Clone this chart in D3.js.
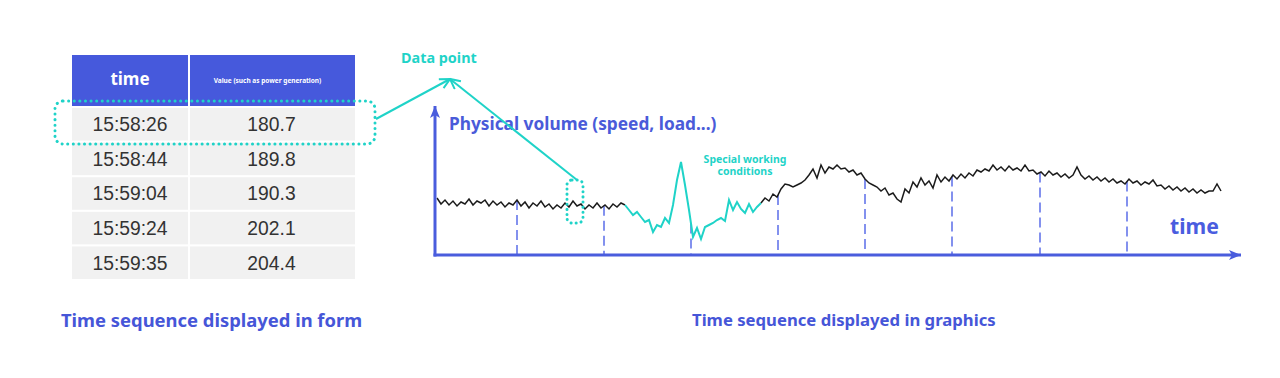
<!DOCTYPE html>
<html lang="en">
<head>
  <meta charset="UTF-8">
  <title>Time sequence: form vs graphics</title>
  <style>
    * { box-sizing: border-box; margin: 0; }
    body { width: 1280px; height: 378px; background: #fff; overflow: hidden; }
    svg { display: block; }
    .bold { font-family: "Noto Sans", sans-serif; font-weight: bold; }
    .cell { font-family: "Liberation Sans", Arial, sans-serif; font-size: 19.3px; fill: #333; }
  </style>
</head>
<body>
  <svg></svg>
  <script src="https://d3js.org/d3.v7.min.js"></script>
  <script>
    // table contents
    const headers = ['time', 'Value (such as power generation)'];
    const times = ['15:58:26', '15:58:44', '15:59:04', '15:59:24', '15:59:35'];
    const values = [180.7, 189.8, 190.3, 202.1, 204.4];

    // physical volume, one reading per sample
    const series = [
      57,51,55,50,54,49,53,51,56,50,54,52,55,49,54,50,53,48,52,50,55,49,53,47,
      52,49,54,48,51,46,50,47,52,48,54,49,51,46,50,47,52,47,50,46,51,48,52,50,
      45,40,43,38,33,35,23,30,28,37,32,50,75,93,70,45,18,27,16,28,30,32,35,37,
      34,55,45,53,46,42,51,43,48,52,
      57,54,61,58,66,71,70,68,70,72,75,80,86,77,90,82,88,86,90,86,87,83,85,80,
      82,76,72,70,68,64,67,60,62,56,53,66,62,73,68,77,70,74,67,80,73,78,74,80,
      76,81,77,82,79,85,83,86,84,90,85,88,84,89,85,87,84,90,84,85,81,83,79,84,
      80,82,78,81,77,80,88,80,76,79,75,78,74,77,73,76,72,74,71,76,72,74,70,73,
      71,75,69,70,66,69,65,68,64,67,63,66,62,65,62,64,64,71,64
    ];
    // sample range of the special working conditions
    const specialRange = [47, 81];
    // sample positions of the dashed time marks
    const marks = [20, 41.75, 63.5, 85.25, 107, 128.75, 150.75, 172.5];

    const blue = '#4a5ddd';
    const cyan = '#1fd3c8';
    const width = 1280, height = 378;

    const svg = d3.select('svg')
      .attr('width', width)
      .attr('height', height);

    const defs = svg.append('defs');
    defs.append('marker')
      .attr('id', 'axis-head')
      .attr('viewBox', '0 0 12 10')
      .attr('refX', 12).attr('refY', 5)
      .attr('markerWidth', 12).attr('markerHeight', 10)
      .attr('markerUnits', 'userSpaceOnUse')
      .attr('orient', 'auto')
      .append('path')
      .attr('d', 'M0,0 L12,5 L0,10 L3,5 Z')
      .attr('fill', blue);
    defs.append('marker')
      .attr('id', 'open-head')
      .attr('viewBox', '0 0 12 12')
      .attr('refX', 11).attr('refY', 6)
      .attr('markerWidth', 12).attr('markerHeight', 12)
      .attr('markerUnits', 'userSpaceOnUse')
      .attr('orient', 'auto')
      .append('path')
      .attr('d', 'M1,1 L11,6 L1,11')
      .attr('fill', 'none')
      .attr('stroke', cyan)
      .attr('stroke-width', 2);

    // ---------- table ----------
    const tx = d3.scaleOrdinal().domain([0, 1]).range([72, 190]);
    const colW = [116, 165];
    const rowY = d3.scaleBand().domain(d3.range(times.length)).range([108, 279]).paddingInner(0.06);

    const table = svg.append('g');
    table.selectAll('rect.head')
      .data(headers)
      .enter().append('rect')
      .attr('class', 'head')
      .attr('x', (d, i) => tx(i))
      .attr('y', 55)
      .attr('width', (d, i) => colW[i])
      .attr('height', 51)
      .attr('fill', '#4659dc');
    table.append('text')
      .attr('class', 'bold')
      .attr('x', tx(0) + colW[0] / 2).attr('y', 85)
      .attr('text-anchor', 'middle')
      .attr('font-size', 17)
      .attr('fill', '#fff')
      .text(headers[0]);
    table.append('text')
      .attr('class', 'bold')
      .attr('x', tx(1) + colW[1] / 2 - 5).attr('y', 83)
      .attr('text-anchor', 'middle')
      .attr('font-size', 6.5)
      .attr('font-weight', 'normal')
      .attr('fill', '#fff')
      .text(headers[1]);

    const rows = table.selectAll('g.row')
      .data(times.map((t, i) => ({ t: t, v: values[i], i: i })))
      .enter().append('g')
      .attr('class', 'row')
      .attr('transform', d => 'translate(0,' + rowY(d.i) + ')');
    [0, 1].forEach(c => {
      rows.append('rect')
        .attr('x', tx(c))
        .attr('width', colW[c])
        .attr('height', rowY.bandwidth())
        .attr('fill', '#f1f1f1');
    });
    rows.append('text')
      .attr('class', 'cell')
      .attr('x', tx(0) + colW[0] / 2)
      .attr('y', rowY.bandwidth() / 2 + 7)
      .attr('text-anchor', 'middle')
      .text(d => d.t);
    rows.append('text')
      .attr('class', 'cell')
      .attr('x', tx(1) + colW[1] / 2 - 1)
      .attr('y', rowY.bandwidth() / 2 + 7)
      .attr('text-anchor', 'middle')
      .text(d => d.v.toFixed(1));

    // dotted box around the first row
    svg.append('rect')
      .attr('x', 55).attr('y', 101)
      .attr('width', 320).attr('height', 43)
      .attr('rx', 8)
      .attr('fill', 'none')
      .attr('stroke', cyan)
      .attr('stroke-width', 3)
      .attr('stroke-dasharray', '0.1,5.5')
      .attr('stroke-linecap', 'round');

    // ---------- chart ----------
    const x = d3.scaleLinear().domain([0, series.length - 1]).range([437, 1221]);
    const y = d3.scaleLinear().domain([0, 150]).range([255, 105]);
    const valueAt = t => {
      const i = Math.floor(t), f = t - i;
      return series[i] + (series[Math.min(i + 1, series.length - 1)] - series[i]) * f;
    };

    // dashed time marks
    svg.append('g').selectAll('line')
      .data(marks)
      .enter().append('line')
      .attr('x1', d => x(d)).attr('x2', d => x(d))
      .attr('y1', d => y(valueAt(d)))
      .attr('y2', y(0))
      .attr('stroke', '#5b6ee9')
      .attr('stroke-width', 1.5)
      .attr('stroke-dasharray', '10,5');

    const line = d3.line()
      .x(d => x(d.i))
      .y(d => y(d.v));
    const pts = series.map((v, i) => ({ i: i, v: v }));
    const segments = [
      { pts: pts.slice(0, specialRange[0] + 1), color: '#1b1b1b', w: 1.5 },
      { pts: pts.slice(specialRange[0], specialRange[1] + 1), color: cyan, w: 2 },
      { pts: pts.slice(specialRange[1]), color: '#1b1b1b', w: 1.5 }
    ];
    svg.append('g').selectAll('path')
      .data(segments)
      .enter().append('path')
      .attr('d', d => line(d.pts))
      .attr('fill', 'none')
      .attr('stroke', d => d.color)
      .attr('stroke-width', d => d.w)
      .attr('stroke-linejoin', 'miter');

    // axes
    svg.append('line')
      .attr('x1', 435).attr('y1', y(0) + 1.5)
      .attr('x2', 435).attr('y2', 106)
      .attr('stroke', blue).attr('stroke-width', 3)
      .attr('marker-end', 'url(#axis-head)');
    svg.append('line')
      .attr('x1', 433.5).attr('y1', y(0))
      .attr('x2', 1241).attr('y2', y(0))
      .attr('stroke', blue).attr('stroke-width', 3)
      .attr('marker-end', 'url(#axis-head)');

    svg.append('text')
      .attr('class', 'bold')
      .attr('x', 449).attr('y', 130)
      .attr('font-size', 17.3)
      .attr('fill', '#4a5bd9')
      .text('Physical volume (speed, load...)');
    svg.append('text')
      .attr('class', 'bold')
      .attr('x', 1170).attr('y', 234)
      .attr('font-size', 21.2)
      .attr('fill', '#4a5ddf')
      .text('time');

    // special working conditions label
    const sp = svg.append('text')
      .attr('class', 'bold')
      .attr('font-size', 10.5)
      .attr('fill', cyan)
      .attr('text-anchor', 'middle');
    sp.append('tspan').attr('x', 745).attr('y', 163).text('Special working');
    sp.append('tspan').attr('x', 745).attr('y', 175).text('conditions');

    // data point annotation
    const sIdx = 34.5;
    svg.append('rect')
      .attr('x', x(sIdx) - 8).attr('y', 180)
      .attr('width', 16).attr('height', 43)
      .attr('rx', 5)
      .attr('fill', 'none')
      .attr('stroke', cyan)
      .attr('stroke-width', 3)
      .attr('stroke-dasharray', '0.1,5')
      .attr('stroke-linecap', 'round');
    const apex = [450, 79];
    svg.append('line')
      .attr('x1', 376).attr('y1', 119)
      .attr('x2', apex[0]).attr('y2', apex[1])
      .attr('stroke', cyan).attr('stroke-width', 2)
      .attr('marker-end', 'url(#open-head)');
    svg.append('line')
      .attr('x1', x(sIdx) + 2).attr('y1', 180)
      .attr('x2', apex[0]).attr('y2', apex[1])
      .attr('stroke', cyan).attr('stroke-width', 2)
      .attr('marker-end', 'url(#open-head)');
    svg.append('text')
      .attr('class', 'bold')
      .attr('x', 401).attr('y', 63)
      .attr('font-size', 14.4)
      .attr('fill', cyan)
      .text('Data point');

    // captions
    svg.append('text')
      .attr('class', 'bold')
      .attr('x', 61).attr('y', 327)
      .attr('font-size', 18.4)
      .attr('fill', '#4656d8')
      .text('Time sequence displayed in form');
    svg.append('text')
      .attr('class', 'bold')
      .attr('x', 692).attr('y', 326)
      .attr('font-size', 16.7)
      .attr('fill', '#4656d8')
      .text('Time sequence displayed in graphics');
  </script>
</body>
</html>
